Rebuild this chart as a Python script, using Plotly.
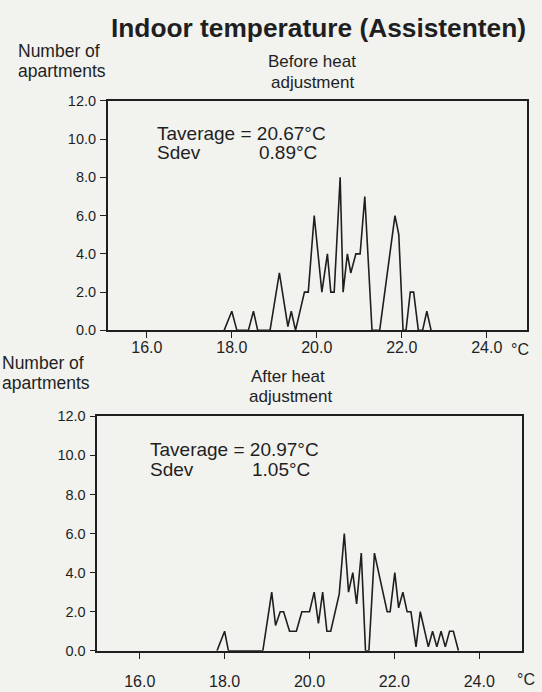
import plotly.graph_objects as go

W, H = 542, 692

# Before heat adjustment (temperature degC, number of apartments)
before_temp = [17.82, 18.0, 18.12, 18.39, 18.51, 18.61, 18.9, 19.12, 19.32, 19.4, 19.5,
               19.71, 19.8, 19.94, 20.12, 20.25, 20.33, 20.41, 20.55, 20.62, 20.72,
               20.8, 20.92, 21.02, 21.13, 21.3, 21.48, 21.84, 21.93, 22.03, 22.1,
               22.2, 22.28, 22.39, 22.49, 22.59, 22.69]
before_count = [0, 1, 0, 0, 1, 0, 0, 3, 0.2, 1, 0,
                2, 2, 6, 2, 4, 2, 2, 8, 2, 4,
                3, 4, 4, 7, 0, 0, 6, 5, 0, 0,
                2, 2, 0, 0, 1, 0]

# After heat adjustment
after_temp = [17.82, 18.0, 18.09, 18.9, 19.11, 19.2, 19.31, 19.39, 19.53, 19.69, 19.82,
              20.0, 20.11, 20.21, 20.31, 20.41, 20.5, 20.7, 20.82, 20.92, 21.02,
              21.11, 21.22, 21.32, 21.4, 21.53, 21.83, 21.9, 22.01, 22.1, 22.2,
              22.3, 22.39, 22.51, 22.61, 22.8, 22.9, 23.0, 23.1, 23.2, 23.3,
              23.39, 23.51]
after_count = [0, 1, 0, 0, 3, 1.3, 2, 2, 1, 1, 2,
               2, 3, 1.4, 3, 1, 1, 2.9, 6, 3, 4,
               2.4, 5, 0, 0, 5, 2, 2, 4, 2.2, 3,
               2, 2, 0.2, 2, 0.2, 1, 0.2, 1, 0.2, 1,
               1, 0]

x_ticks = [16.0, 18.0, 20.0, 22.0, 24.0]
y_ticks = [0.0, 2.0, 4.0, 6.0, 8.0, 10.0, 12.0]

title_text = "Indoor temperature (Assistenten)"
ylabel_lines = ["Number of", "apartments"]
panel_titles = [["Before heat", "adjustment"], ["After heat", "adjustment"]]
stats = [("Taverage = 20.67°C", "Sdev", "0.89°C"),
         ("Taverage = 20.97°C", "Sdev", "1.05°C")]

FONT = "Liberation Sans, Arial, sans-serif"
INK = "#1f1f1f"
BG = "#f2f2ef"


def px(x):
    return x / W


def py(y):
    return 1 - y / H


fig = go.Figure()
fig.add_trace(go.Scatter(x=before_temp, y=before_count, mode="lines",
                         line=dict(color=INK, width=1.6), xaxis="x", yaxis="y",
                         showlegend=False, hoverinfo="skip"))
fig.add_trace(go.Scatter(x=after_temp, y=after_count, mode="lines",
                         line=dict(color=INK, width=1.6), xaxis="x2", yaxis="y2",
                         showlegend=False, hoverinfo="skip"))

axis_common = dict(showline=True, linecolor=INK, linewidth=1.5, mirror=True,
                   showgrid=False, zeroline=False, ticks="outside",
                   tickcolor=INK, tickwidth=1.3, ticklen=6)

fig.update_layout(
    width=W, height=H, margin=dict(l=0, r=0, t=0, b=0),
    paper_bgcolor=BG, plot_bgcolor=BG,
    font=dict(family=FONT, color=INK),
    xaxis=dict(domain=[px(107.7), px(526.7)], range=[15.08, 24.94],
               tickvals=x_ticks, ticktext=[f"{v:.1f}" for v in x_ticks],
               tickfont=dict(size=16), ticklabelstandoff=-4, anchor="y", **axis_common),
    yaxis=dict(domain=[py(330), py(95)], range=[0, 12],
               tickvals=y_ticks, ticktext=[f"{v:.1f}" for v in y_ticks],
               tickfont=dict(size=14.5), ticklabelstandoff=1, anchor="x", **axis_common),
    xaxis2=dict(domain=[px(97.3), px(521.7)], range=[15.0, 25.0],
                tickvals=x_ticks, ticktext=[f"{v:.1f}" for v in x_ticks],
                tickfont=dict(size=16), ticklabelstandoff=9, anchor="y2", **axis_common),
    yaxis2=dict(domain=[py(658), py(418)], range=[0, 12],
                tickvals=y_ticks, ticktext=[f"{v:.1f}" for v in y_ticks],
                tickfont=dict(size=14.5), ticklabelstandoff=1, anchor="x2", **axis_common),
)

ann = []


def add(text, x, y, size, xanchor="center", yanchor="middle", bold=False):
    if bold:
        text = f"<b>{text}</b>"
    ann.append(dict(text=text, x=px(x), y=py(y), xref="paper", yref="paper",
                    xanchor=xanchor, yanchor=yanchor, showarrow=False,
                    font=dict(size=size, family=FONT, color=INK)))


add(title_text, 318, 20, 26.3, bold=True)

# y-axis captions
add(ylabel_lines[0], 16, 44, 17.5, xanchor="left")
add(ylabel_lines[1], 16, 65, 17.5, xanchor="left")
add(ylabel_lines[0], 0, 363, 17.5, xanchor="left")
add(ylabel_lines[1], 0, 384, 17.5, xanchor="left")

# panel titles
add(panel_titles[0][0], 312, 55, 17)
add(panel_titles[0][1], 312, 76, 17)
add(panel_titles[1][0], 288, 377, 17)
add(panel_titles[1][1], 290, 398, 17)

# stats text
add(stats[0][0], 155, 128, 19, xanchor="left")
add(stats[0][1], 155, 148, 19, xanchor="left")
add(stats[0][2], 319, 148, 19, xanchor="right")
add(stats[1][0], 148, 452, 19, xanchor="left")
add(stats[1][1], 148, 472, 19, xanchor="left")
add(stats[1][2], 312, 472, 19, xanchor="right")

# unit labels
add("°C", 520, 350, 16)
add("°C", 526, 687, 16)

fig.update_layout(annotations=ann)
fig.write_html("out.html")
